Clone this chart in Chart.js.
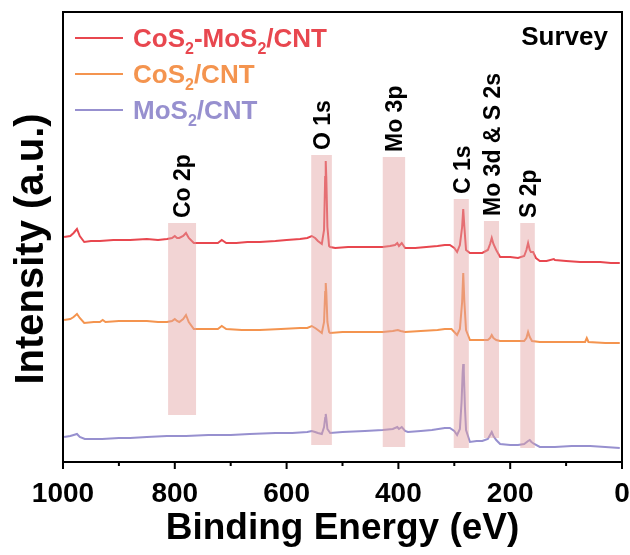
<!DOCTYPE html>
<html>
<head>
<meta charset="utf-8">
<script src="https://cdn.jsdelivr.net/npm/chart.js@4.4.0/dist/chart.umd.min.js"></script>
<style>
    body { margin: 0; background: #fff; }
</style>
</head>
<body>
<canvas id="myChart" width="630" height="555"></canvas>
<script>
// series names (legend)
var names = ['CoS2-MoS2/CNT', 'CoS2/CNT', 'MoS2/CNT'];
var colors = ['#e8474f', '#f4944f', '#9790cf'];

// XPS survey traces, [binding energy (eV), intensity (a.u., offset)]
var cosMosCnt = [[998,225],[987,226],[981,229],[975,233],[970,226],[962,220],[950,221],[934,221],[910,222],[880,222],[850,223],[830,222],[814,223],[805,224],[800,226],[796,224],[792,224],[785,226],[780,229],[775,224],[766,219],[755,219],[740,219],[723,219],[716,222],[708,219],[690,219],[670,220],[648,220],[620,221],[600,222],[576,223],[563,224],[555,226],[549,224],[544,221],[537,218],[533,232],[531,285],[530,301],[529,285],[527,235],[524,216],[522,215],[513,214],[490,215],[460,215],[428,215],[415,216],[406,217],[402,219],[399,216],[394,219],[388,214],[370,214],[350,215],[330,216],[317,217],[308,217],[300,214],[295,210],[290,217],[286,235],[284,253],[282,235],[279,212],[272,209],[260,209],[250,209],[240,212],[236,218],[233,224],[230,218],[225,212],[218,205],[200,205],[186,204],[175,206],[171,212],[168,219],[165,212],[163,210],[159,210],[154,204],[147,201],[135,201],[122,203],[120,202],[100,201],[75,200],[60,200],[39,200],[20,199],[4,199]];
var cosCnt = [[998,142],[987,143],[981,145],[975,148],[970,144],[962,139],[945,140],[934,140],[929,142],[924,140],[900,141],[880,141],[850,141],[830,140],[814,140],[805,141],[800,143],[796,141],[792,140],[785,143],[780,147],[775,140],[766,133],[750,133],[723,133],[716,136],[708,133],[680,132],[648,132],[610,133],[576,134],[563,134],[555,136],[549,134],[544,132],[537,129],[533,140],[531,170],[530,179],[529,170],[527,140],[524,130],[522,129],[500,130],[460,130],[428,130],[410,131],[401,132],[396,131],[388,130],[360,131],[330,132],[317,133],[305,133],[295,127],[290,133],[286,160],[284,189],[282,160],[279,132],[272,122],[255,122],[240,122],[236,124],[233,127],[230,124],[225,122],[218,121],[200,121],[175,121],[171,124],[168,130],[165,125],[161,121],[147,120],[120,120],[90,120],[66,120],[63,124],[60,120],[30,119],[4,119]];
var mosCnt = [[998,25],[987,26],[981,27],[975,28],[970,25],[961,23],[930,23],[900,24],[880,24],[850,25],[814,26],[780,26],[740,27],[700,27],[666,28],[620,29],[590,29],[563,30],[555,31],[549,30],[544,29],[537,28],[533,35],[531,44],[530,48],[529,44],[527,33],[522,29],[500,30],[460,31],[428,32],[410,33],[402,35],[399,33],[394,35],[388,31],[383,30],[360,31],[340,32],[317,34],[308,34],[300,31],[295,27],[290,33],[287,60],[285,90],[284,98],[283,90],[281,55],[279,32],[272,20],[260,21],[250,21],[240,23],[236,27],[233,30],[230,26],[225,22],[218,18],[200,17],[186,17],[175,18],[168,21],[165,22],[162,20],[157,18],[147,15],[120,15],[90,16],[57,16],[30,15],[4,14]];

// peak regions
var bandNames = ['Co 2p', 'O 1s', 'Mo 3p', 'C 1s', 'Mo 3d & S 2s', 'S 2p'];
var bandFrom = [812, 556, 428, 301, 247, 182];
var bandTo = [762, 519, 388, 274, 220, 156];
var bandTop = [239, 307, 305, 263, 241, 239];
var bandBottom = [47, 17, 15, 14, 24, 14];

// x axis
var xMin = 0, xMax = 1000, xStep = 200;
var xMinor = [900, 700, 500, 300, 100];

var FONT = 'Liberation Sans, Arial, sans-serif';

function toXY(arr) {
    return arr.map(function (p) { return { x: p[0], y: p[1] }; });
}

// text with subscript digits
function drawSubText(ctx, txt, x, y, size) {
    var parts = txt.split(/(\d)/);
    for (var i = 0; i < parts.length; i++) {
        if (!parts[i]) continue;
        if (/\d/.test(parts[i])) {
            ctx.font = 'bold ' + Math.round(size * 0.62) + 'px ' + FONT;
            ctx.fillText(parts[i], x, y + size * 0.28);
        } else {
            ctx.font = 'bold ' + size + 'px ' + FONT;
            ctx.fillText(parts[i], x, y);
        }
        x += ctx.measureText(parts[i]).width;
    }
}

var extras = {
    id: 'extras',
    afterDatasetsDraw: function (chart) {
        var ctx = chart.ctx, xs = chart.scales.x, ys = chart.scales.y, a = chart.chartArea;
        ctx.save();

        // pink bands over the peaks
        ctx.fillStyle = 'rgba(226,159,159,0.45)';
        for (var i = 0; i < bandNames.length; i++) {
            var x1 = xs.getPixelForValue(bandFrom[i]);
            var x2 = xs.getPixelForValue(bandTo[i]);
            var y1 = ys.getPixelForValue(bandTop[i]);
            var y2 = ys.getPixelForValue(bandBottom[i]);
            ctx.fillRect(x1, y1, x2 - x1, y2 - y1);
        }

        // peak labels, rotated
        ctx.fillStyle = '#000';
        ctx.font = 'bold 23px ' + FONT;
        ctx.textAlign = 'left';
        ctx.textBaseline = 'middle';
        for (var j = 0; j < bandNames.length; j++) {
            var cx = (xs.getPixelForValue(bandFrom[j]) + xs.getPixelForValue(bandTo[j])) / 2 + 2;
            var by = ys.getPixelForValue(bandTop[j]) - 5;
            ctx.save();
            ctx.translate(cx, by);
            ctx.rotate(-Math.PI / 2);
            ctx.fillText(bandNames[j], 0, 0);
            ctx.restore();
        }

        // y title
        ctx.save();
        ctx.font = 'bold 40px ' + FONT;
        ctx.textAlign = 'center';
        ctx.translate(32, (a.top + a.bottom) / 2 + 12);
        ctx.rotate(-Math.PI / 2);
        ctx.fillText('Intensity (a.u.)', 0, 0);
        ctx.restore();

        // frame
        ctx.strokeStyle = '#000';
        ctx.lineWidth = 2;
        ctx.strokeRect(a.left, a.top, a.right - a.left, a.bottom - a.top);

        // ticks, major + minor
        ctx.beginPath();
        for (var v = xMin; v <= xMax; v += xStep) {
            var px = xs.getPixelForValue(v);
            ctx.moveTo(px, a.bottom);
            ctx.lineTo(px, a.bottom + 7);
        }
        for (var k = 0; k < xMinor.length; k++) {
            var mx = xs.getPixelForValue(xMinor[k]);
            ctx.moveTo(mx, a.bottom);
            ctx.lineTo(mx, a.bottom + 4);
        }
        ctx.stroke();

        // legend
        ctx.textAlign = 'left';
        ctx.textBaseline = 'alphabetic';
        for (var n = 0; n < names.length; n++) {
            var ly = a.top + 26 + n * 36;
            ctx.strokeStyle = colors[n];
            ctx.lineWidth = 2;
            ctx.beginPath();
            ctx.moveTo(a.left + 12, ly);
            ctx.lineTo(a.left + 60, ly);
            ctx.stroke();
            ctx.fillStyle = colors[n];
            drawSubText(ctx, names[n], a.left + 70, ly + 9, 26);
        }

        // Survey
        ctx.fillStyle = '#000';
        ctx.font = 'bold 26px ' + FONT;
        ctx.textAlign = 'right';
        ctx.fillText('Survey', a.right - 14, a.top + 33);

        ctx.restore();
    }
};

var ctx = document.getElementById('myChart');
var chart = new Chart(ctx, {
    type: 'line',
    data: {
        datasets: [
            { label: names[0], data: toXY(cosMosCnt), borderColor: colors[0] },
            { label: names[1], data: toXY(cosCnt), borderColor: colors[1] },
            { label: names[2], data: toXY(mosCnt), borderColor: colors[2] }
        ]
    },
    options: {
        responsive: false,
        animation: false,
        devicePixelRatio: 1,
        layout: { padding: { left: 0, right: 8, top: 12, bottom: 0 } },
        elements: {
            point: { radius: 0 },
            line: { borderWidth: 2, tension: 0 }
        },
        plugins: {
            legend: { display: false },
            tooltip: { enabled: false }
        },
        scales: {
            x: {
                type: 'linear',
                reverse: true,
                min: xMin,
                max: xMax,
                grid: { display: false, drawTicks: false },
                border: { display: false },
                ticks: {
                    stepSize: xStep,
                    padding: 15,
                    color: '#000',
                    font: { family: FONT, size: 28, weight: 'bold' },
                    callback: function (v) { return String(v); }
                },
                title: {
                    display: true,
                    text: 'Binding Energy (eV)',
                    color: '#000',
                    padding: { top: 0, bottom: 4 },
                    font: { family: FONT, size: 37, weight: 'bold' }
                },
                afterFit: function (scale) {
                    scale.height = 93;
                    scale.paddingLeft = 0;
                    scale.paddingRight = 0;
                }
            },
            y: {
                min: 0,
                max: 450,
                grid: { display: false, drawTicks: false },
                border: { display: false },
                ticks: { display: false },
                title: { display: false },
                afterFit: function (scale) { scale.width = 63; }
            }
        }
    },
    plugins: [extras]
});
</script>
</body>
</html>
